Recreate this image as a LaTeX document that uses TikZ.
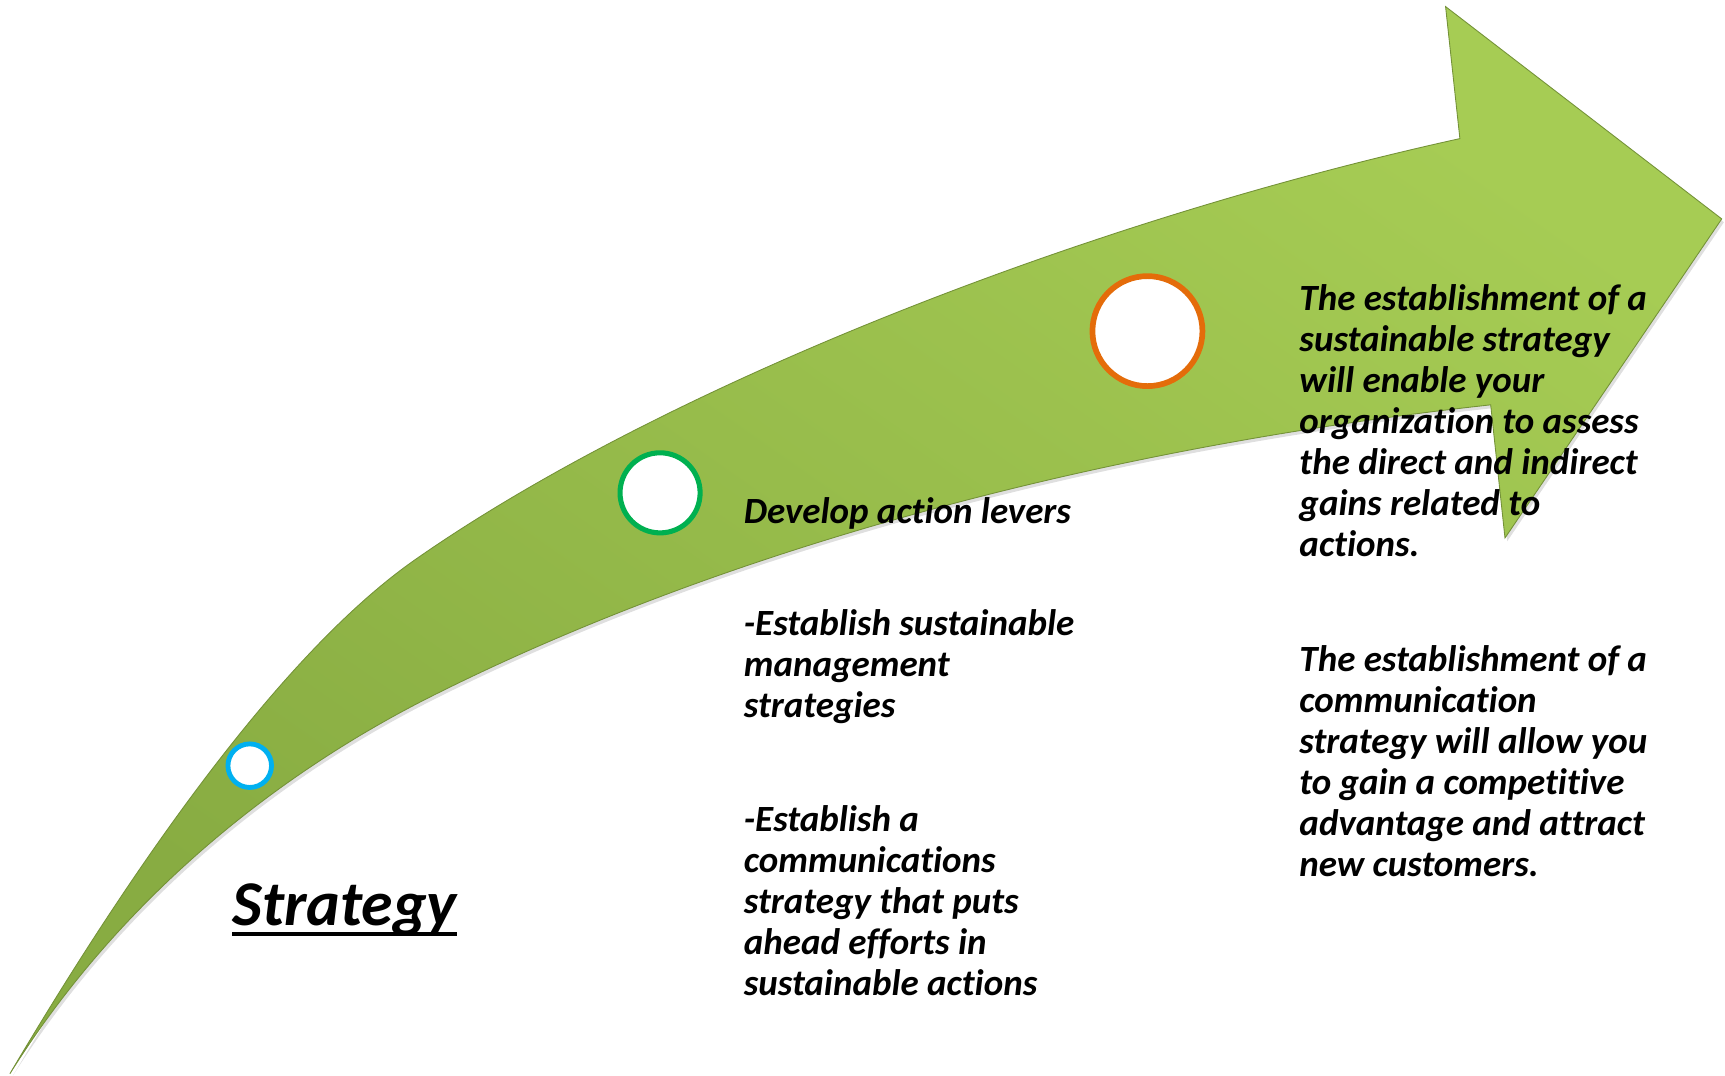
\documentclass[tikz,border=0pt]{standalone}
\usepackage{fontspec}
\setmainfont{Carlito}[Ligatures=CommonOff]
\usetikzlibrary{shadows}
\definecolor{leafdark}{HTML}{88AC42}
\definecolor{leaflight}{HTML}{A6CC54}
\definecolor{dotblue}{HTML}{00B0F0}
\definecolor{dotgreen}{HTML}{00B050}
\definecolor{dotorange}{HTML}{E46C0A}
\begin{document}
\begin{tikzpicture}[
    dot/.style={circle,fill=white,inner sep=0pt},
    say/.style={anchor=base west,inner sep=0pt,align=left,font=\fontsize{33.6bp}{37.3bp}\selectfont\bfseries\itshape}]
  \useasboundingbox (0bp,0bp) rectangle (1568bp,978bp);
  % the curved arrow
  \shadedraw [top color=leaflight,bottom color=leafdark,shading angle=-35,draw=leafdark!85!black,line width=0.8bp,
    drop shadow={opacity=0.25,shadow xshift=2bp,shadow yshift=-3bp}]
    (9bp,2bp) .. controls (114.75bp,180.7bp) and (251.8bp,381.3bp) .. (377bp,469bp)
    .. controls (594.5bp,621.2bp) and (974.5bp,774.4bp) .. (1327bp,852bp)
    -- (1314bp,972bp) -- (1565bp,779bp) -- (1368bp,489bp) -- (1355bp,610bp)
    .. controls (994.2bp,570.3bp) and (657.8bp,478bp) .. (394bp,346bp)
    .. controls (233.3bp,265.6bp) and (98.5bp,145.2bp) .. (9bp,2bp) -- cycle;
  % milestones
  \node (BlueDot) at (227bp,282bp) [dot,draw=dotblue,line width=4.4bp,minimum size=39.6bp] {};
  \node (GreenDot) at (600bp,530bp) [dot,draw=dotgreen,line width=4.6bp,minimum size=72.8bp] {};
  \node (OrangeDot) at (1043bp,677bp) [dot,draw=dotorange,line width=5.2bp,minimum size=100bp] {};
  % texts (base = last line)
  \node (Strategy) at (211bp,137bp) [say,font=\fontsize{58bp}{67bp}\selectfont\bfseries\itshape] {Strategy};
  \draw [line width=3bp] ([yshift=-8bp]Strategy.base west) -- ([yshift=-8bp]Strategy.base east);
  \node (Levers) at (676bp,502bp) [say] {Develop action levers};
  \node (Management) at (676bp,325.4bp) [say] {-Establish sustainable\\management\\strategies};
  \node (Communications) at (676bp,72.8bp) [say] {-Establish a\\communications\\strategy that puts\\ahead efforts in\\sustainable actions};
  \node (Gains) at (1181bp,472.2bp) [say] {The establishment of a\\sustainable strategy\\will enable your\\organization to assess\\the direct and indirect\\gains related to\\actions.};
  \node (Customers) at (1181bp,181.5bp) [say] {The establishment of a\\communication\\strategy will allow you\\to gain a competitive\\advantage and attract\\new customers.};
\end{tikzpicture}
\end{document}
